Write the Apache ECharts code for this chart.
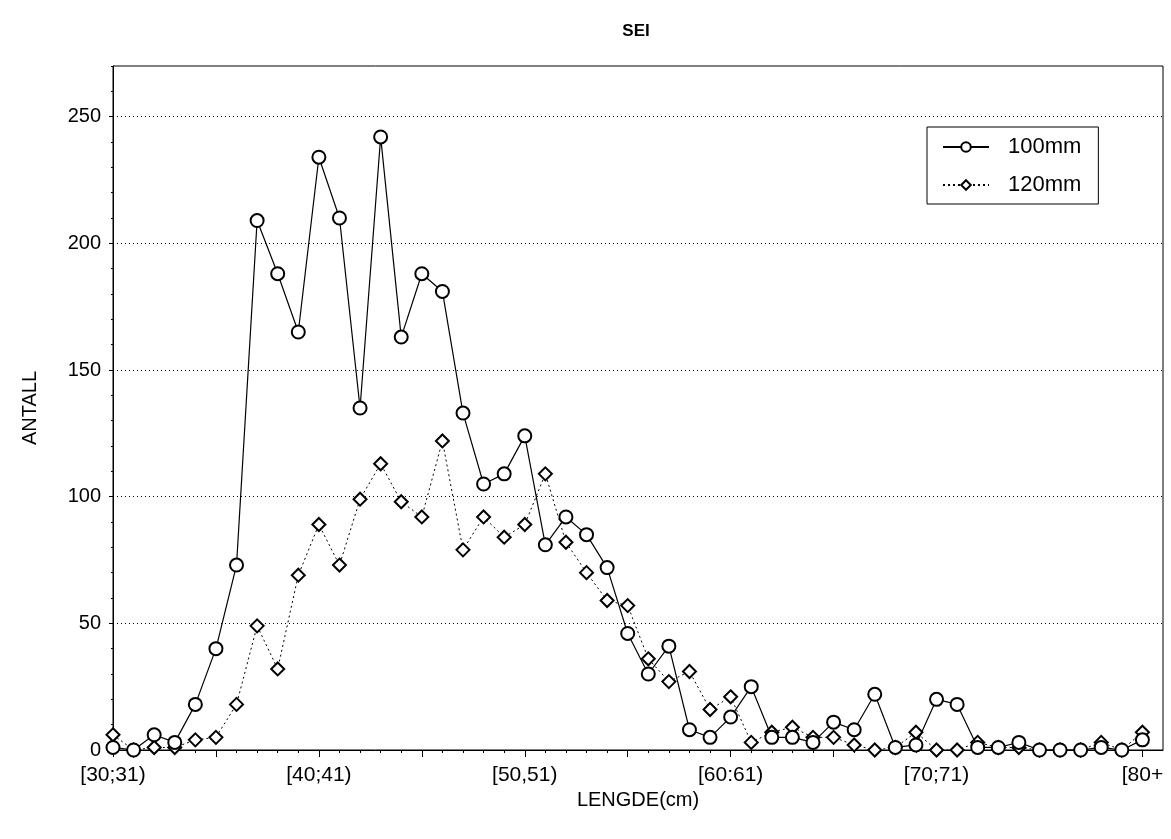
<!DOCTYPE html>
<html>
<head>
<meta charset="utf-8">
<title>SEI</title>
<script src="https://cdn.jsdelivr.net/npm/echarts@6/dist/echarts.min.js"></script>
<style>
  html, body { margin: 0; padding: 0; background: #fff; }
  #chart { width: 1171px; height: 839px; }
</style>
</head>
<body>
<div id="chart"></div>
<script>
// Length classes (cm), one per position on the x axis
const lengthClasses = [
  '[30;31)', '[31;32)', '[32;33)', '[33;34)', '[34;35)', '[35;36)', '[36;37)', '[37;38)', '[38;39)', '[39;40)',
  '[40;41)', '[41;42)', '[42;43)', '[43;44)', '[44;45)', '[45;46)', '[46;47)', '[47;48)', '[48;49)', '[49;50)',
  '[50,51)', '[51;52)', '[52;53)', '[53;54)', '[54;55)', '[55;56)', '[56;57)', '[57;58)', '[58;59)', '[59;60)',
  '[60:61)', '[61;62)', '[62;63)', '[63;64)', '[64;65)', '[65;66)', '[66;67)', '[67;68)', '[68;69)', '[69;70)',
  '[70;71)', '[71;72)', '[72;73)', '[73;74)', '[74;75)', '[75;76)', '[76;77)', '[77;78)', '[78;79)', '[79;80)',
  '[80+'
];

// Catch counts per length class
const mesh100 = [
  1, 0, 6, 3, 18, 40, 73, 209, 188, 165,
  234, 210, 135, 242, 163, 188, 181, 133, 105, 109,
  124, 81, 92, 85, 72, 46, 30, 41, 8, 5,
  13, 25, 5, 5, 3, 11, 8, 22, 1, 2,
  20, 18, 1, 1, 3, 0, 0, 0, 1, 0,
  4
];
const mesh120 = [
  6, 0, 1, 1, 4, 5, 18, 49, 32, 69,
  89, 73, 99, 113, 98, 92, 122, 79, 92, 84,
  89, 109, 82, 70, 59, 57, 36, 27, 31, 16,
  21, 3, 7, 9, 5, 5, 2, 0, 1, 7,
  0, 0, 3, 1, 1, 0, 0, 0, 3, 0,
  7
];

// Positions that carry a tick label, and the y tick values
const labelledPositions = [0, 10, 20, 30, 40, 50];
const majorXTicks = [0, 5, 10, 15, 20, 25, 30, 35, 40, 45, 50];
const yTicks = [0, 50, 100, 150, 200, 250];

const minorX = lengthClasses.map((_, i) => i);
const minorY = [];
for (let v = 0; v <= 270; v += 10) minorY.push(v);

const FONT = '"Liberation Sans", Arial, sans-serif';
const toPairs = arr => arr.map((v, i) => [i, v]);

const chart = echarts.init(document.getElementById('chart'), null, { renderer: 'canvas' });

chart.setOption({
  animation: false,
  backgroundColor: '#fff',
  textStyle: { fontFamily: FONT, color: '#000' },
  title: {
    text: 'SEI',
    left: 631,
    textAlign: 'center',
    top: 18,
    textStyle: { fontFamily: FONT, fontSize: 17, fontWeight: 'bold', color: '#000' }
  },
  grid: {
    left: 113, right: 8, top: 66, bottom: 89,
    show: true, borderColor: '#000', borderWidth: 1, backgroundColor: 'transparent'
  },
  legend: {
    orient: 'vertical',
    left: 927, top: 127,
    padding: [9, 17, 8, 15],
    itemGap: 16,
    itemWidth: 46, itemHeight: 12,
    backgroundColor: '#fff',
    borderColor: '#000', borderWidth: 1,
    textStyle: { fontFamily: FONT, fontSize: 22, color: '#000', padding: [0, 0, 0, 14] },
    data: ['100mm', '120mm']
  },
  xAxis: [
    {
      type: 'value', min: 0, max: 51,
      name: 'LENGDE(cm)', nameLocation: 'middle', nameGap: 40,
      nameTextStyle: { fontFamily: FONT, fontSize: 20, color: '#000' },
      axisLine: { show: true, lineStyle: { color: '#000', width: 1 } },
      axisTick: { show: true, length: 7, customValues: majorXTicks, lineStyle: { color: '#000' } },
      axisLabel: {
        customValues: labelledPositions,
        formatter: v => lengthClasses[v],
        fontFamily: FONT, fontSize: 21, color: '#000', margin: 15
      },
      splitLine: { show: false }
    },
    {
      type: 'value', min: 0, max: 51, position: 'bottom',
      axisLine: { show: false },
      axisTick: { show: true, length: 3, customValues: minorX, lineStyle: { color: '#000' } },
      axisLabel: { show: false },
      splitLine: { show: false }
    }
  ],
  yAxis: [
    {
      type: 'value', min: 0, max: 270, interval: 50,
      name: 'ANTALL', nameLocation: 'middle', nameGap: 73,
      nameTextStyle: { fontFamily: FONT, fontSize: 20, color: '#000' },
      axisLine: { show: true, lineStyle: { color: '#000', width: 1 } },
      axisTick: { show: true, length: 4, customValues: yTicks, lineStyle: { color: '#000' } },
      axisLabel: {
        customValues: yTicks,
        fontFamily: FONT, fontSize: 20, color: '#000', margin: 12
      },
      splitLine: { show: true, lineStyle: { color: '#000', type: [1, 3], width: 1 } }
    },
    {
      type: 'value', min: 0, max: 270, position: 'left',
      axisLine: { show: false },
      axisTick: { show: true, length: 2, customValues: minorY, lineStyle: { color: '#000' } },
      axisLabel: { show: false },
      splitLine: { show: false }
    }
  ],
  series: [
    {
      name: '120mm', type: 'line',
      data: toPairs(mesh120),
      symbol: 'emptyDiamond', symbolSize: 13,
      lineStyle: { color: '#000', width: 1, type: [2, 3] },
      itemStyle: { color: '#000', borderColor: '#000', borderWidth: 1.3 },
      z: 3
    },
    {
      name: '100mm', type: 'line',
      data: toPairs(mesh100),
      symbol: 'emptyCircle', symbolSize: 13,
      lineStyle: { color: '#000', width: 1.2, type: 'solid' },
      itemStyle: { color: '#000', borderColor: '#000', borderWidth: 1.5 },
      z: 4
    }
  ]
});
</script>
</body>
</html>
